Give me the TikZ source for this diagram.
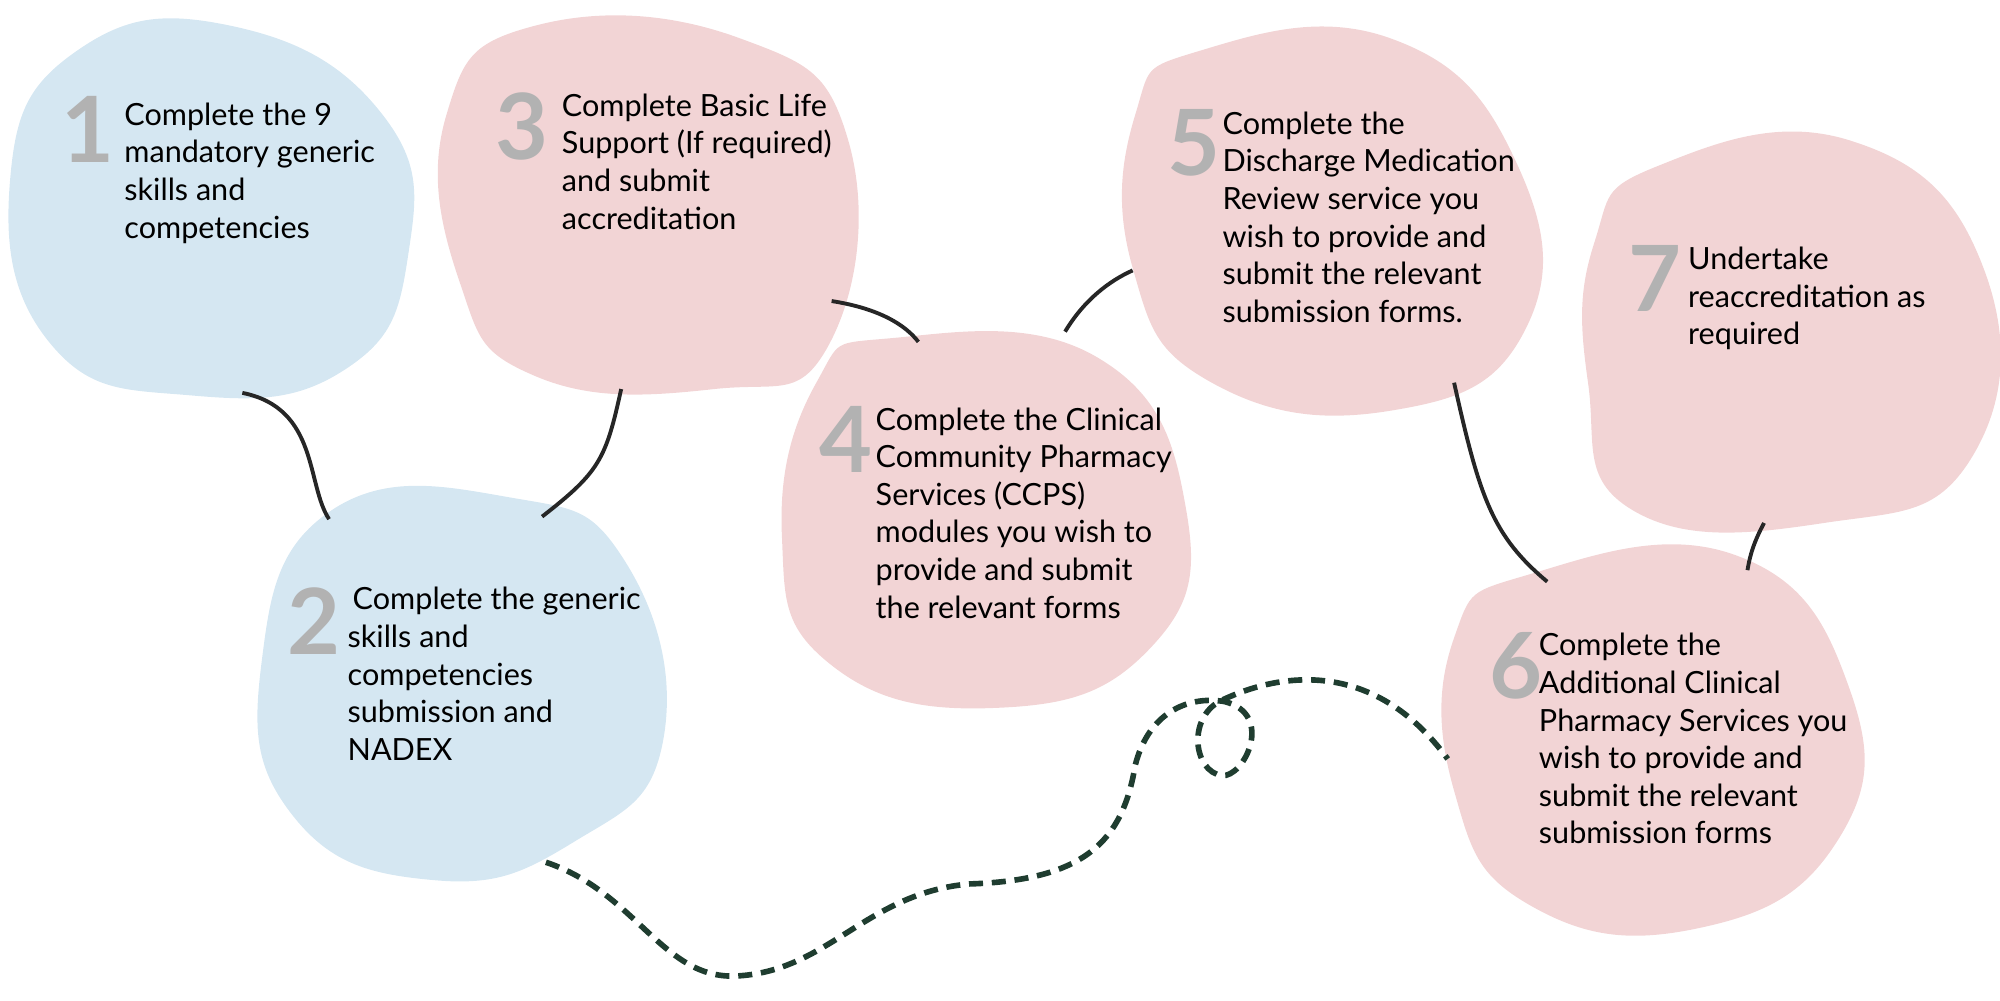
\documentclass[tikz,border=0pt]{standalone}
\usepackage{fontspec}
\setmainfont{Lato}
\usetikzlibrary{positioning}
\definecolor{blobblue}{HTML}{D5E7F2}
\definecolor{blobpink}{HTML}{F2D4D5}
\definecolor{pathgreen}{HTML}{1F3D30}
\begin{document}
\begin{tikzpicture}
        [
          x=0.012755cm, y=-0.012755cm,
          stagetext/.style={anchor=north west, align=left, inner sep=0pt, font=\fontsize{8.7}{10.7}\selectfont},
          num/.style={anchor=north west, inner sep=0pt, font=\fontsize{26}{26}\selectfont\bfseries, text=gray!60},
          link/.style={line width=1.1pt, black!85},
        ]
        \useasboundingbox (0,0) rectangle (1568,784);
        % blobs
        \fill[blobblue] plot[smooth cycle, tension=0.8] coordinates {(60,40) (180,20) (300,90) (320,200) (270,290) (150,310) (40,270) (8,140)};
        \fill[blobblue] plot[smooth cycle, tension=0.8] coordinates {(260,400) (400,390) (490,440) (520,580) (450,660) (340,690) (230,640) (205,520)};
        \fill[blobpink] plot[smooth cycle, tension=0.8] coordinates {(420,20) (580,30) (665,110) (650,270) (560,305) (420,295) (360,220) (350,90)};
        \fill[blobpink] plot[smooth cycle, tension=0.8] coordinates {(700,265) (860,280) (930,400) (900,510) (780,555) (650,520) (613,420) (640,300)};
        \fill[blobpink] plot[smooth cycle, tension=0.8] coordinates {(940,40) (1090,30) (1190,130) (1195,260) (1090,322) (950,300) (888,210) (890,90)};
        \fill[blobpink] plot[smooth cycle, tension=0.8] coordinates {(1200,450) (1360,435) (1450,540) (1440,660) (1330,728) (1200,710) (1140,620) (1140,500)};
        \fill[blobpink] plot[smooth cycle, tension=0.8] coordinates {(1300,130) (1450,110) (1555,210) (1545,360) (1430,410) (1280,400) (1245,300) (1250,190)};
        % link ends
        \coordinate (b1s) at (190,308);
        \coordinate (b2n) at (258,407);
        \coordinate (b3s) at (487,305);
        \coordinate (b2ne) at (425,405);
        \coordinate (b3e) at (652,236);
        \coordinate (b4n) at (720,268);
        \coordinate (b4ne) at (835,260);
        \coordinate (b5w) at (888,212);
        \coordinate (b5s) at (1140,300);
        \coordinate (b6n) at (1213,456);
        \coordinate (b7s) at (1383,410);
        \coordinate (b6ne) at (1370,447);
        \coordinate (b2s) at (428,676);
        \coordinate (b6w) at (1135,595);
        % links
        \draw[link] (b1s) .. controls (250,320) and (240,380) .. (b2n);
        \draw[link] (b3s) .. controls (475,360) and (470,370) .. (b2ne);
        \draw[link] (b3e) .. controls (690,242) and (710,255) .. (b4n);
        \draw[link] (b4ne) .. controls (850,235) and (870,220) .. (b5w);
        \draw[link] (b5s) .. controls (1160,390) and (1170,420) .. (b6n);
        \draw[link] (b7s) .. controls (1375,425) and (1372,435) .. (b6ne);
        \draw[pathgreen, line width=1.6pt, dash pattern=on 4pt off 2.5pt] (b2s) .. controls (500,700) and (520,770) .. (580,765)
          .. controls (650,760) and (680,700) .. (760,693)
          .. controls (850,690) and (880,660) .. (890,600)
          .. controls (900,560) and (930,545) .. (960,550)
          .. controls (1000,560) and (975,610) .. (958,608)
          .. controls (935,605) and (930,560) .. (960,548)
          .. controls (1010,525) and (1080,520) .. (b6w);
        % numbers and texts
        \node[num] (n1) at (48,75) {1};
        \node[stagetext] (t1) at (97,80) {Complete the 9\\mandatory generic\\skills and\\competencies};
        \node[num] (n2) at (225,460) {2};
        \node[stagetext] (t2) at (272,460) {\,Complete the generic\\skills and\\competencies\\submission and\\NADEX};
        \node[num] (n3) at (388,72) {3};
        \node[stagetext] (t3) at (440,73) {Complete Basic Life\\Support (If required)\\and submit\\accreditation};
        \node[num] (n4) at (642,318) {4};
        \node[stagetext] (t4) at (686,319) {Complete the Clinical\\Community Pharmacy\\Services (CCPS)\\modules you wish to\\provide and submit\\the relevant forms};
        \node[num] (n5) at (915,85) {5};
        \node[stagetext] (t5) at (958,87) {Complete the\\Discharge Medication\\Review service you\\wish to provide and\\submit the relevant\\submission forms.};
        \node[num] (n6) at (1167,495) {6};
        \node[stagetext] (t6) at (1206,496) {Complete the\\Additional Clinical\\Pharmacy Services you\\wish to provide and\\submit the relevant\\submission forms};
        \node[num] (n7) at (1276,192) {7};
        \node[stagetext] (t7) at (1323,193) {Undertake\\reaccreditation as\\required};
\end{tikzpicture}
\end{document}
